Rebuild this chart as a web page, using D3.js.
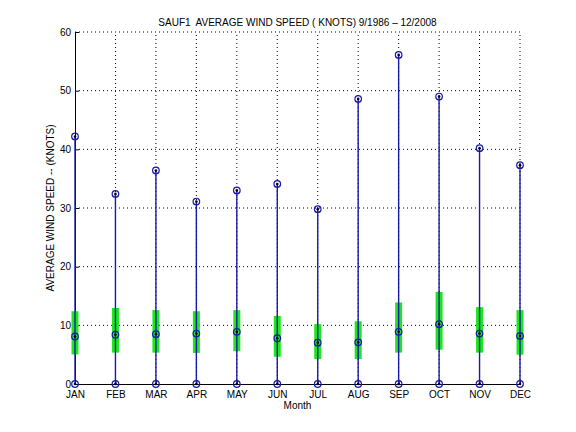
<!DOCTYPE html>
<html>
<head>
<meta charset="utf-8">
<script src="https://cdn.jsdelivr.net/npm/d3@7"></script>
<style>
  body { margin: 0; background: #fff; }
  text { font-family: "Liberation Sans", Arial, sans-serif; fill: #000; white-space: pre; }
</style>
</head>
<body>
<div id="chart"></div>
<script>
const months = ["JAN","FEB","MAR","APR","MAY","JUN","JUL","AUG","SEP","OCT","NOV","DEC"];
const maxSpeed = [42.2, 32.4, 36.4, 31.1, 33.0, 34.1, 29.8, 48.6, 56.1, 49.0, 40.2, 37.3];
const meanSpeed = [8.1, 8.4, 8.5, 8.6, 8.9, 7.8, 7.05, 7.1, 8.9, 10.2, 8.6, 8.2];
const minSpeed = [0, 0, 0, 0, 0, 0, 0, 0, 0, 0, 0, 0];
const barLow = [5.05, 5.35, 5.35, 5.3, 5.6, 4.65, 4.25, 4.25, 5.35, 5.85, 5.35, 5.0];
const barHigh = [12.4, 12.95, 12.6, 12.4, 12.6, 11.6, 10.2, 10.7, 13.9, 15.7, 13.1, 12.6];
const yTicks = [0, 10, 20, 30, 40, 50, 60];

const width = 576;
const height = 432;
const margin = {left: 75, right: 56, top: 32, bottom: 48};

const svg = d3.select("#chart")
              .append("svg")
              .attr("width", width)
              .attr("height", height)

const x = d3.scaleLinear()
            .domain([1, 12])
            .range([margin.left, width - margin.right])
const y = d3.scaleLinear()
            .domain([0, 60])
            .range([height - margin.bottom, margin.top])

const data = months.map((m, i) => ({
  month: m, pos: i + 1, max: maxSpeed[i], mean: meanSpeed[i], min: minSpeed[i],
  lo: barLow[i], hi: barHigh[i]
}))

// dotted grid
const grid = svg.append("g")
grid.selectAll(".hgrid")
    .data(yTicks.filter(t => t > 0))
    .enter()
    .append("line")
    .attr("x1", x(1)).attr("x2", x(12))
    .attr("y1", d => y(d)).attr("y2", d => y(d))
    .attr("stroke", "#000")
    .attr("stroke-width", 1)
    .attr("stroke-dasharray", "1,3")
grid.selectAll(".vgrid")
    .data(data.slice(1))
    .enter()
    .append("line")
    .attr("x1", d => x(d.pos)).attr("x2", d => x(d.pos))
    .attr("y1", y(0)).attr("y2", y(60))
    .attr("stroke", "#000")
    .attr("stroke-width", 1)
    .attr("stroke-dasharray", "1,3")

// axes
const xAxis = d3.axisBottom(x)
                .tickValues(data.map(d => d.pos))
                .tickFormat((d, i) => months[i])
                .tickSizeInner(-4)
                .tickSizeOuter(0)
                .tickPadding(7)
const yAxis = d3.axisLeft(y)
                .tickValues(yTicks)
                .tickSizeInner(-4)
                .tickSizeOuter(0)
                .tickPadding(4)

const gx = svg.append("g")
              .attr("transform", `translate(0,${y(0)})`)
              .call(xAxis)
const gy = svg.append("g")
              .attr("transform", `translate(${x(1)},0)`)
              .call(yAxis)
svg.selectAll(".domain").attr("stroke", "#000")
svg.selectAll(".tick line").attr("stroke", "#000")
svg.selectAll(".tick text").attr("font-size", 10).attr("font-family", "Liberation Sans, Arial, sans-serif")

// std bars
svg.selectAll(".bar")
   .data(data)
   .enter()
   .append("rect")
   .attr("x", d => x(d.pos) - 3.5)
   .attr("width", 7)
   .attr("y", d => y(d.hi))
   .attr("height", d => y(d.lo) - y(d.hi))
   .attr("fill", "#1ee61e")

// range lines
svg.selectAll(".range")
   .data(data)
   .enter()
   .append("line")
   .attr("x1", d => x(d.pos)).attr("x2", d => x(d.pos))
   .attr("y1", d => y(d.min)).attr("y2", d => y(d.max))
   .attr("stroke", "#1a1aa8")
   .attr("stroke-width", 1.4)

// markers
const markerVals = data.flatMap(d => [
  {pos: d.pos, v: d.max}, {pos: d.pos, v: d.mean}, {pos: d.pos, v: d.min}
])
const markers = svg.selectAll(".mk")
                   .data(markerVals)
                   .enter()
                   .append("g")
                   .attr("transform", d => `translate(${x(d.pos)},${y(d.v)})`)
markers.append("circle")
       .attr("r", 3.3)
       .attr("fill", "none")
       .attr("stroke", "#1a1aa8")
       .attr("stroke-width", 1.2)
markers.append("circle")
       .attr("r", 1.3)
       .attr("fill", "#000")

// labels
svg.append("text")
   .attr("x", (x(1) + x(12)) / 2)
   .attr("y", 26)
   .attr("text-anchor", "middle")
   .attr("font-size", 10)
   .text("SAUF1  AVERAGE WIND SPEED ( KNOTS) 9/1986 \u2013 12/2008")

svg.append("text")
   .attr("x", (x(1) + x(12)) / 2)
   .attr("y", 409)
   .attr("text-anchor", "middle")
   .attr("font-size", 10)
   .text("Month")

svg.append("text")
   .attr("transform", `translate(54,${(y(0) + y(60)) / 2}) rotate(-90)`)
   .attr("text-anchor", "middle")
   .attr("font-size", 10)
   .text("AVERAGE WIND SPEED -- (KNOTS)")
</script>
</body>
</html>
